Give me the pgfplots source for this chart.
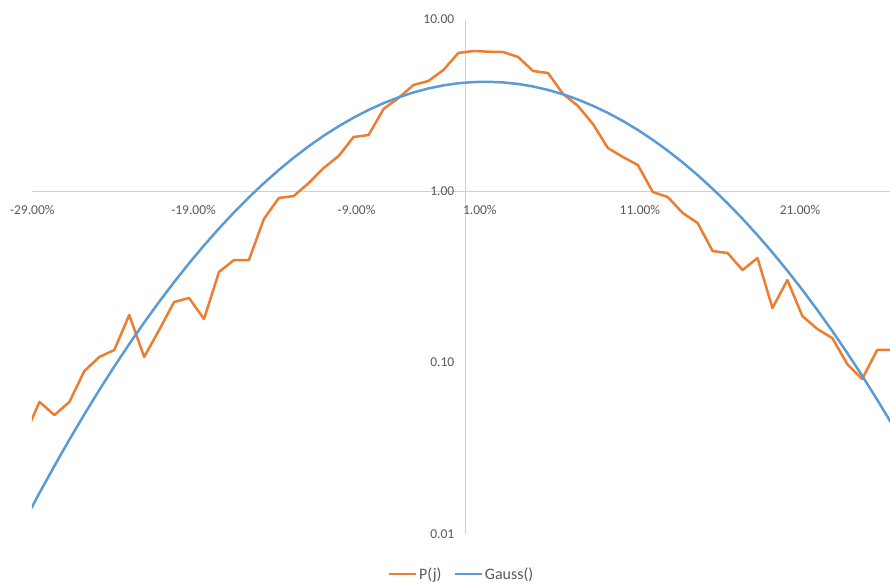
\documentclass[border=0pt]{standalone}
\usepackage{fontspec}
\setmainfont{Carlito}
\usepackage{pgfplots}
\usepackage{pgfplotstable}
\pgfplotsset{compat=1.18}
\definecolor{porange}{HTML}{ED7D31}
\definecolor{gblue}{HTML}{5B9BD5}
\definecolor{axgray}{HTML}{D0D0D0}
\definecolor{txtgray}{HTML}{595959}
\pgfplotstableread{
x y
-29.5 0.0373
-28.5 0.0589
-27.5 0.0494
-26.5 0.0589
-25.5 0.0892
-24.5 0.1077
-23.5 0.1183
-22.5 0.1892
-21.5 0.1077
-20.5 0.1547
-19.5 0.2253
-18.5 0.2377
-17.5 0.1793
-16.5 0.3371
-15.5 0.3960
-14.5 0.3960
-13.5 0.6866
-12.5 0.9103
-11.5 0.9351
-10.5 1.113
-9.5 1.362
-8.5 1.600
-7.5 2.065
-6.5 2.121
-5.5 3.007
-4.5 3.486
-3.5 4.151
-2.5 4.380
-1.5 5.077
-0.5 6.378
0.5 6.551
1.5 6.490
2.5 6.464
3.5 6.045
4.5 5.009
5.5 4.876
6.5 3.679
7.5 3.131
8.5 2.459
9.5 1.781
10.5 1.579
11.5 1.418
12.5 0.9867
13.5 0.9225
14.5 0.7445
15.5 0.6509
16.5 0.4468
17.5 0.4350
18.5 0.3462
19.5 0.4068
20.5 0.2078
21.5 0.3027
22.5 0.1867
23.5 0.1568
24.5 0.1389
25.5 0.0980
26.5 0.0801
27.5 0.1183
28.5 0.1183
}\pj
\pgfplotstableread{
x y
-29.5 0.01190
-28.5 0.01736
-27.5 0.02497
-26.5 0.03551
-25.5 0.04985
-24.5 0.06916
-23.5 0.09471
-22.5 0.1281
-21.5 0.1712
-20.5 0.2259
-19.5 0.2943
-18.5 0.3789
-17.5 0.4817
-16.5 0.6047
-15.5 0.7499
-14.5 0.9182
-13.5 1.1108
-12.5 1.3266
-11.5 1.5654
-10.5 1.8245
-9.5 2.0997
-8.5 2.3857
-7.5 2.6778
-6.5 2.9696
-5.5 3.2529
-4.5 3.5171
-3.5 3.7557
-2.5 3.9628
-1.5 4.1285
-0.5 4.2487
0.5 4.3180
1.5 4.3350
2.5 4.2974
3.5 4.2075
4.5 4.0685
5.5 3.8855
6.5 3.6644
7.5 3.4146
8.5 3.1405
9.5 2.8541
10.5 2.5615
11.5 2.2703
12.5 1.9876
13.5 1.7186
14.5 1.4676
15.5 1.2378
16.5 1.0309
17.5 0.8479
18.5 0.6889
19.5 0.5529
20.5 0.4383
21.5 0.3429
22.5 0.2652
23.5 0.2024
24.5 0.1527
25.5 0.1137
26.5 0.08364
27.5 0.06075
28.5 0.04359
}\gauss
\begin{document}
\begin{tikzpicture}[x=1pt,y=1pt]
\useasboundingbox (0,0) rectangle (890,584);
\begin{axis}[
  at={(32pt,50pt)}, anchor=south west,
  scale only axis, width=858pt, height=514.5pt,
  xmin=-29, xmax=28.36, ymin=0.01, ymax=10,
  ymode=log,
  axis x line=middle, axis y line=middle,
  hide obscured x ticks=false, hide obscured y ticks=false,
  axis line style={draw=axgray, line width=1pt, -},
  major tick length=0pt, minor tick length=0pt,
  tick style={draw=none},
  xtick={-28.98,-18.2,-7.3,0.94,11.64,22.34},
  xticklabels={-29.00\%,-19.00\%,-9.00\%,1.00\%,11.00\%,21.00\%},
  ytick={0.01,0.1,1,10},
  yticklabels={0.01,0.10,1.00,10.00},
  tick label style={font=\fontsize{13.5}{15}\selectfont, text=txtgray},
  xticklabel style={anchor=north, yshift=-11pt},
  yticklabel style={anchor=east, xshift=-8pt},
  clip=true,
  legend style={at={(0.5006,-0.0777)}, anchor=center, draw=none, fill=none,
    legend columns=2, font=\fontsize{16}{18}\selectfont, text=txtgray,
    /tikz/every even column/.append style={column sep=10pt}},
  legend image code/.code={\draw[#1] (0pt,0pt) -- (27pt,0pt);},
]
\addplot[porange, line width=2.5pt, line join=round] table[x=x,y=y] {\pj};
\addlegendentry{P(j)}
\addplot[gblue, line width=2.5pt, line join=round] table[x=x,y=y] {\gauss};
\addlegendentry{Gauss()}
\end{axis}
\end{tikzpicture}
\end{document}
